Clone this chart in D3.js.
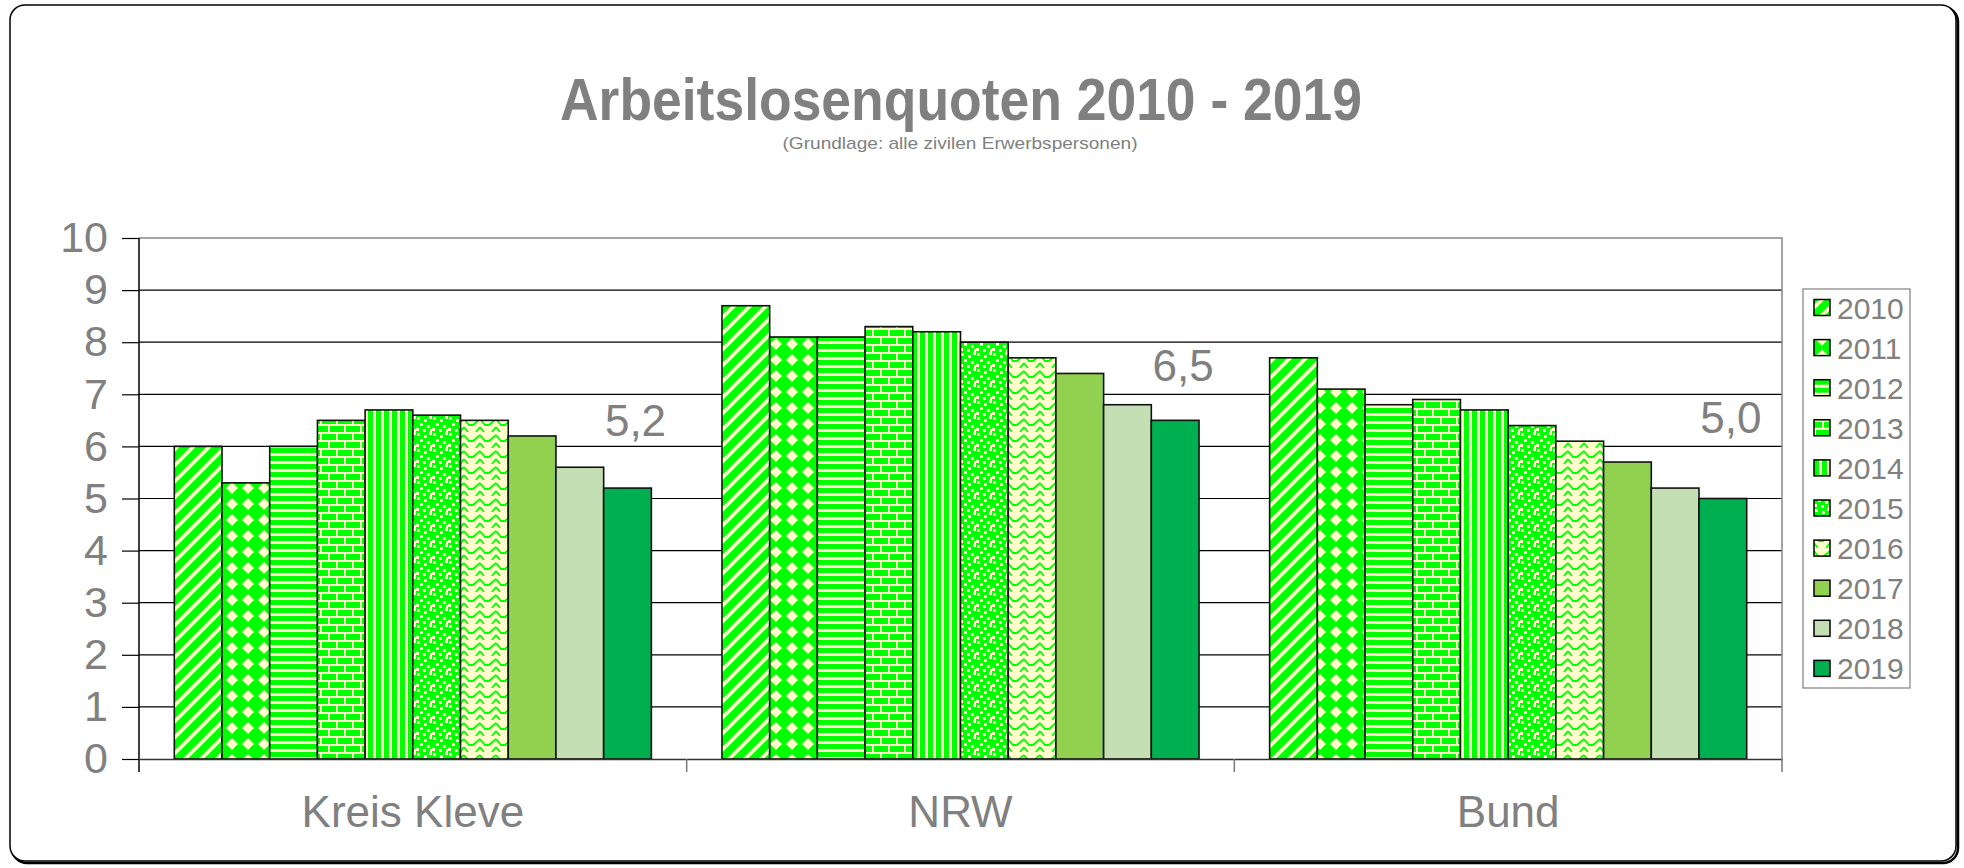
<!DOCTYPE html>
<html>
<head>
<meta charset="utf-8">
<script src="https://cdn.jsdelivr.net/npm/d3@7"></script>
<style>
  body { margin: 0; background: #fff; }
  text { font-family: "Liberation Sans", Arial, sans-serif; }
</style>
</head>
<body>
<script>
const width = 1964;
const height = 868;
const margin = ({top: 238, right: 182, bottom: 109, left: 139});

// data
const categories = ["Kreis Kleve", "NRW", "Bund"];
const years = ["2010", "2011", "2012", "2013", "2014", "2015", "2016", "2017", "2018", "2019"];
const kleve = [6.0, 5.3, 6.0, 6.5, 6.7, 6.6, 6.5, 6.2, 5.6, 5.2];
const nrw   = [8.7, 8.1, 8.1, 8.3, 8.2, 8.0, 7.7, 7.4, 6.8, 6.5];
const bund  = [7.7, 7.1, 6.8, 6.9, 6.7, 6.4, 6.1, 5.7, 5.2, 5.0];
const yTicks = [0, 1, 2, 3, 4, 5, 6, 7, 8, 9, 10];
const valueLabels = ["5,2", "6,5", "5,0"];

const seriesByCat = [kleve, nrw, bund];
const data = [];
categories.forEach((c, ci) => {
  years.forEach((y, yi) => data.push({cat: c, year: y, value: seriesByCat[ci][yi]}));
});

const green = "#00FF00", cream = "#FFFFCC";
const fills = {
  "2010": "url(#p2010)", "2011": "url(#p2011)", "2012": "url(#p2012)",
  "2013": "url(#p2013)", "2014": "url(#p2014)", "2015": "url(#p2015)",
  "2016": "url(#p2016)", "2017": "#92D050", "2018": "#C4DFB4", "2019": "#00B050"
};

const svg = d3.select("body").append("svg")
    .attr("width", width)
    .attr("height", height);

// patterns
const defs = svg.append("defs");
function pattern(id, w, h, bg) {
  const p = defs.append("pattern").attr("id", id)
      .attr("patternUnits", "userSpaceOnUse")
      .attr("width", w).attr("height", h);
  p.append("rect").attr("width", w).attr("height", h).attr("fill", bg);
  return p;
}
// wide upward diagonal
pattern("p2010", 16, 16, green).append("path")
    .attr("d", "M-3,3L3,-3M-1,17L17,-1M13,19L19,13")
    .attr("stroke", cream).attr("stroke-width", 3.8);
// diamonds
pattern("p2011", 16, 16, green).append("path")
    .attr("d", "M8,2L14,8L8,14L2,8Z").attr("fill", cream);
// horizontal stripes
pattern("p2012", 8, 8, green).append("rect")
    .attr("y", 5).attr("width", 8).attr("height", 3).attr("fill", cream);
// bricks
{
  const p = pattern("p2013", 16, 16, green);
  p.append("path")
      .attr("d", "M0,0H16V2H0ZM0,8H16V10H0ZM0,2H2V8H0ZM8,10H10V16H8Z")
      .attr("fill", cream);
}
// vertical stripes
pattern("p2014", 8, 8, green).append("rect")
    .attr("x", 5).attr("width", 3).attr("height", 8).attr("fill", cream);
// confetti
{
  const p = pattern("p2015", 16, 16, green);
  [[1, 1], [8, 3], [13, 0], [4, 7], [11, 9], [0, 12], [7, 13], [14, 13]].forEach(q => {
    p.append("rect").attr("x", q[0]).attr("y", q[1])
        .attr("width", 3).attr("height", 3).attr("fill", cream);
  });
}
// wave
pattern("p2016", 16, 16, cream).append("path")
    .attr("d", "M0,3L5,9L9,9L16,3M0,11L4,16M12,16L16,11")
    .attr("fill", "none").attr("stroke", green).attr("stroke-width", 1.8);

// outer frame with shadow
svg.append("rect")
    .attr("x", 12).attr("y", 7).attr("width", 1946).attr("height", 856)
    .attr("rx", 15).attr("fill", "none").attr("stroke", "#000").attr("stroke-width", 2.5);
svg.append("rect")
    .attr("x", 10).attr("y", 5).attr("width", 1946).attr("height", 856)
    .attr("rx", 15).attr("fill", "#fff").attr("stroke", "#000").attr("stroke-width", 1.5);

// title
svg.append("text")
    .attr("x", 961).attr("y", 120)
    .attr("text-anchor", "middle")
    .attr("font-size", 60).attr("font-weight", "bold")
    .attr("fill", "#808080")
    .attr("textLength", 802).attr("lengthAdjust", "spacingAndGlyphs")
    .text("Arbeitslosenquoten 2010 - 2019");
svg.append("text")
    .attr("x", 960).attr("y", 149)
    .attr("text-anchor", "middle")
    .attr("font-size", 17)
    .attr("fill", "#808080")
    .attr("textLength", 355).attr("lengthAdjust", "spacingAndGlyphs")
    .text("(Grundlage: alle zivilen Erwerbspersonen)");

// scales
const x0 = d3.scaleBand()
    .domain(categories)
    .range([margin.left, width - margin.right]);
const x1 = d3.scaleBand()
    .domain(years)
    .range([0, x0.bandwidth()])
    .paddingOuter(0.74);
const yScale = d3.scaleLinear()
    .domain([0, 10])
    .range([height - margin.bottom, margin.top]);

// gridlines
svg.append("g")
    .selectAll("line")
    .data(yTicks.filter(d => d > 0 && d < 10))
    .join("line")
    .attr("x1", margin.left).attr("x2", width - margin.right)
    .attr("y1", d => yScale(d)).attr("y2", d => yScale(d))
    .attr("stroke", "#000").attr("stroke-width", 1.2);

// plot border top / right
svg.append("path")
    .attr("d", `M${margin.left},${yScale(10)}H${width - margin.right}V${yScale(0)}`)
    .attr("fill", "none").attr("stroke", "#888").attr("stroke-width", 1.5);

// bars
svg.append("g")
    .selectAll("rect")
    .data(data)
    .join("rect")
    .attr("x", d => x0(d.cat) + x1(d.year))
    .attr("y", d => yScale(d.value))
    .attr("width", x1.bandwidth())
    .attr("height", d => yScale(0) - yScale(d.value))
    .attr("fill", d => fills[d.year])
    .attr("stroke", "#111").attr("stroke-width", 1.6);

// value labels for 2019
const labelLift = [1.0, 0.75, 1.25];
svg.append("g")
    .selectAll("text")
    .data(categories)
    .join("text")
    .attr("x", c => x0(c) + x1("2019") + x1.bandwidth() / 2 + 8)
    .attr("y", (c, i) => yScale(seriesByCat[i][9] + labelLift[i]))
    .attr("text-anchor", "middle")
    .attr("font-size", 44)
    .attr("fill", "#808080")
    .text((c, i) => valueLabels[i]);

// y axis
const yAxis = d3.axisLeft(yScale)
    .tickValues(yTicks)
    .tickSize(17)
    .tickPadding(14);
const gy = svg.append("g")
    .attr("transform", "translate(" + margin.left + ",0)")
    .call(yAxis);
gy.select(".domain").remove();
gy.selectAll(".tick line").attr("stroke", "#000").attr("stroke-width", 1.2);
gy.selectAll(".tick text")
    .attr("font-size", 43)
    .attr("fill", "#808080")
    .attr("font-family", "Liberation Sans, Arial, sans-serif");
svg.append("line")
    .attr("x1", margin.left).attr("x2", margin.left)
    .attr("y1", yScale(10)).attr("y2", yScale(0) + 13)
    .attr("stroke", "#000").attr("stroke-width", 1.5);

// x axis
const xAxis = d3.axisBottom(x0).tickSize(0).tickPadding(0);
const gx = svg.append("g")
    .attr("transform", "translate(0," + yScale(0) + ")")
    .call(xAxis);
gx.select(".domain").attr("stroke", "#333").attr("stroke-width", 1.5);
gx.selectAll(".tick text")
    .attr("font-size", 44)
    .attr("fill", "#808080")
    .attr("font-family", "Liberation Sans, Arial, sans-serif")
    .attr("dy", null)
    .attr("y", 68);
svg.append("g")
    .selectAll("line")
    .data(categories.slice(1).concat(["_end"]))
    .join("line")
    .attr("x1", c => c === "_end" ? width - margin.right : x0(c))
    .attr("x2", c => c === "_end" ? width - margin.right : x0(c))
    .attr("y1", yScale(0)).attr("y2", yScale(0) + 13)
    .attr("stroke", "#777").attr("stroke-width", 1.5);

// legend
const legend = svg.append("g");
legend.append("rect")
    .attr("x", 1803).attr("y", 289).attr("width", 107).attr("height", 399)
    .attr("fill", "#fff").attr("stroke", "#808080").attr("stroke-width", 1.2);
const item = legend.selectAll("g.item")
    .data(years)
    .join("g")
    .attr("class", "item")
    .attr("transform", (d, i) => "translate(1814," + (307.5 + i * 40.1) + ")");
item.append("rect")
    .attr("x", 0).attr("y", -8).attr("width", 16).attr("height", 16)
    .attr("fill", d => fills[d])
    .attr("stroke", "#000").attr("stroke-width", 1.5);
item.append("text")
    .attr("x", 23).attr("y", 11)
    .attr("font-size", 30)
    .attr("fill", "#808080")
    .text(d => d);
</script>
</body>
</html>
